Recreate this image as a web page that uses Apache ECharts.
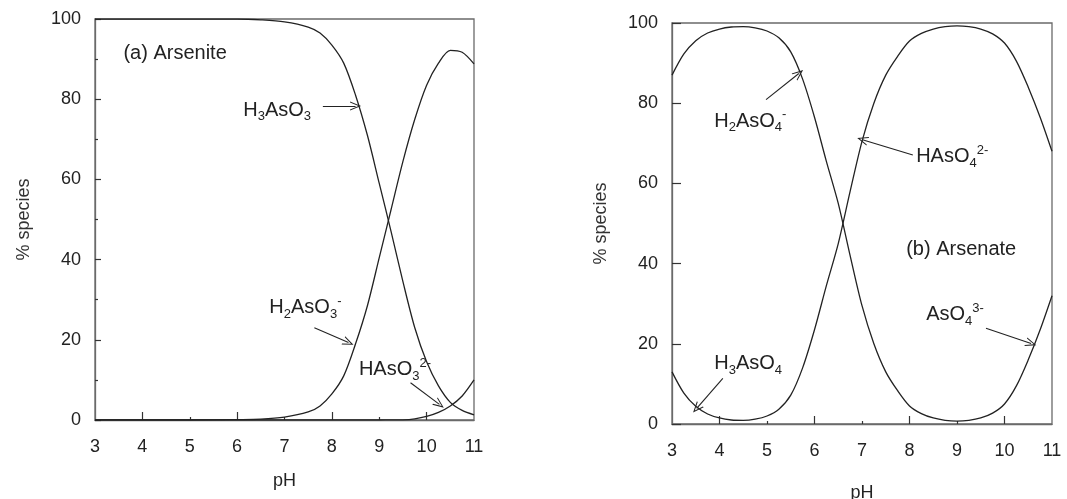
<!DOCTYPE html>
<html>
<head>
<meta charset="utf-8">
<script src="https://cdn.jsdelivr.net/npm/echarts@6/dist/echarts.min.js"></script>
<style>
  html, body { margin: 0; padding: 0; background: #fff; }
  #main { width: 1067px; height: 499px; }
</style>
</head>
<body>
<div id="main"></div>
<script>
// (a) arsenite
var phA = [3, 4, 5, 6, 6.5, 7, 7.5, 7.75, 8, 8.25, 8.5, 8.75, 9, 9.25, 9.5, 9.75, 10, 10.25, 10.5, 10.75, 11];
var h3aso3 = [100, 100, 100, 100, 99.8, 99.3, 98, 96.5, 93.5, 89, 81, 71, 59, 47, 34.5, 23, 14.5, 8.5, 4.4, 2.4, 1.3];
var h2aso3 = [0, 0, 0, 0.1, 0.2, 0.7, 2, 3.5, 6.5, 11, 19, 28.5, 40.5, 52.5, 64.5, 75, 83.5, 89, 92.2, 91.7, 88.8];
var haso3 = [0, 0, 0, 0, 0, 0, 0, 0, 0, 0, 0, 0, 0, 0.02, 0.05, 0.3, 0.9, 1.9, 3.5, 6, 10];

// (b) arsenate
var phB = [3, 3.25, 3.5, 3.75, 4, 4.25, 4.5, 4.75, 5, 5.25, 5.5, 5.75, 6, 6.25, 6.5, 6.75, 7,
           7.25, 7.5, 7.75, 8, 8.25, 8.5, 8.75, 9, 9.25, 9.5, 9.75, 10, 10.25, 10.5, 10.75, 11];
// H2AsO4- then AsO4 3-
var curveA = [87, 92.3, 95.6, 97.5, 98.5, 99, 99.1, 98.8, 98, 96.3, 92.8, 86, 76.5, 65.5, 55, 42, 29.5,
              20, 13, 8.3, 4.5, 2.6, 1.5, 0.9, 0.7, 0.9, 1.5, 2.7, 5, 9.5, 16, 23.5, 32];
// H3AsO4 then HAsO4 2-
var curveB = [13, 7.7, 4.4, 2.5, 1.5, 1, 0.9, 1.2, 2, 3.7, 7.2, 14, 23.5, 34.5, 45, 58, 70.5,
              80, 87, 91.7, 95.5, 97.4, 98.5, 99.1, 99.3, 99.1, 98.5, 97.3, 95, 90.5, 84, 76.5, 68];

var tickLabels = [3, 4, 5, 6, 7, 8, 9, 10, 11];
var longTicks = [4, 6, 8, 10];
var shortTicks = [5, 7, 9];

function pairs(xs, ys) {
  return xs.map(function (x, i) { return [x, ys[i]]; });
}

var FONT = 'Liberation Sans, Arial, sans-serif';
var INK = '#222';
var FRAME = '#6a6a6a';

var rich = {
  s: { fontSize: 13, lineHeight: 12, verticalAlign: 'bottom', color: INK, fontFamily: FONT },
  p: { fontSize: 13, lineHeight: 12, verticalAlign: 'top', color: INK, fontFamily: FONT }
};

function note(x, y, text) {
  return {
    coord: [x, y],
    label: { formatter: text }
  };
}
function arrow(x1, y1, x2, y2) {
  return [{ coord: [x1, y1] }, { coord: [x2, y2] }];
}

var markPointBase = {
  symbol: 'circle',
  symbolSize: 0,
  silent: true,
  label: {
    show: true, position: 'right', distance: 0,
    color: INK, fontSize: 20, lineHeight: 26, fontFamily: FONT, rich: rich
  }
};
var markLineBase = {
  silent: true,
  symbol: ['none', 'path://M5,0 L10,10 L8.8,10 L5,2.4 L1.2,10 L0,10 Z'],
  symbolSize: [9, 11],
  label: { show: false },
  lineStyle: { color: INK, width: 1.1, type: 'solid' }
};

function xAxes(grid, gap) {
  return [
    {
      gridIndex: grid, type: 'value', min: 3, max: 11, interval: 1,
      name: 'pH', nameLocation: 'middle', nameGap: gap,
      nameTextStyle: { fontSize: 18, color: INK, fontFamily: FONT },
      axisLine: { lineStyle: { color: FRAME, width: 1.3 } },
      axisTick: { inside: true, length: 8, customValues: longTicks, lineStyle: { color: '#333', width: 1.2 } },
      axisLabel: { customValues: tickLabels, margin: 18, fontSize: 18, color: INK, fontFamily: FONT },
      splitLine: { show: false }
    },
    {
      gridIndex: grid, type: 'value', min: 3, max: 11, position: 'bottom', offset: 0,
      axisLine: { show: false },
      axisTick: { inside: true, length: 3, customValues: shortTicks, lineStyle: { color: '#333', width: 1.2 } },
      axisLabel: { show: false },
      splitLine: { show: false }
    }
  ];
}
function yAxis(grid, tickLen, minor) {
  return {
    gridIndex: grid, type: 'value', min: 0, max: 100, interval: 20,
    name: '% species', nameLocation: 'middle', nameGap: 62,
    nameTextStyle: { fontSize: 18, color: '#333', fontFamily: FONT },
    axisLine: { show: true, lineStyle: { color: FRAME, width: 1.3 } },
    axisTick: { inside: true, length: tickLen, lineStyle: { color: '#333', width: 1.2 } },
    minorTick: { show: minor, splitNumber: 2, length: 3, lineStyle: { color: '#333', width: 1.2 } },
    axisLabel: { margin: 14, fontSize: 18, color: INK, fontFamily: FONT },
    splitLine: { show: false }
  };
}

function curve(name, xIdx, yIdx, xs, ys, extra) {
  var s = {
    name: name, type: 'line', xAxisIndex: xIdx, yAxisIndex: yIdx,
    data: pairs(xs, ys), showSymbol: false, smooth: 0.3,
    lineStyle: { color: INK, width: 1.3 }, itemStyle: { color: INK }
  };
  if (extra) {
    if (extra.notes) s.markPoint = Object.assign({}, markPointBase, { data: extra.notes });
    if (extra.arrows) s.markLine = Object.assign({}, markLineBase, { data: extra.arrows });
  }
  return s;
}

var option = {
  animation: false,
  backgroundColor: '#fff',
  textStyle: { fontFamily: FONT },
  grid: [
    { left: 95, top: 19, width: 379, height: 401, outerBoundsMode: 'none',
      show: true, borderColor: FRAME, borderWidth: 1.3 },
    { left: 672, top: 23, width: 380, height: 401, outerBoundsMode: 'none',
      show: true, borderColor: FRAME, borderWidth: 1.3 }
  ],
  xAxis: xAxes(0, 52).concat(xAxes(1, 60)),
  yAxis: [yAxis(0, 6, true), yAxis(1, 9, false)],
  series: [
    curve('H3AsO3', 0, 0, phA, h3aso3, {
      notes: [
        note(3.6, 91.5, '(a) Arsenite'),
        note(6.13, 77.3, 'H{s|3}AsO{s|3}'),
        note(6.68, 28, 'H{s|2}AsO{s|3}{p|-}'),
        note(8.57, 12.6, 'HAsO{s|3}{p|2-}')
      ],
      arrows: [
        arrow(7.81, 78.3, 8.5, 78.3),
        arrow(7.63, 23, 8.35, 19.3),
        arrow(9.66, 9.3, 10.27, 3.9)
      ]
    }),
    curve('H2AsO3-', 0, 0, phA, h2aso3),
    curve('HAsO3 2-', 0, 0, phA, haso3),
    curve('H2AsO4- / AsO4 3-', 2, 1, phB, curveA, {
      notes: [
        note(3.89, 75.5, 'H{s|2}AsO{s|4}{p|-}'),
        note(8.14, 66.6, 'HAsO{s|4}{p|2-}'),
        note(7.93, 43.4, '(b) Arsenate'),
        note(8.35, 27.2, 'AsO{s|4}{p|3-}'),
        note(3.89, 15.1, 'H{s|3}AsO{s|4}')
      ],
      arrows: [
        arrow(4.98, 80.9, 5.67, 87.4),
        arrow(8.07, 67.1, 7.01, 70.9),
        arrow(9.61, 23.9, 10.56, 20.1),
        arrow(4.07, 11.4, 3.52, 3.9)
      ]
    }),
    curve('H3AsO4 / HAsO4 2-', 2, 1, phB, curveB)
  ]
};

var chart = echarts.init(document.getElementById('main'));
chart.setOption(option);
</script>
</body>
</html>
